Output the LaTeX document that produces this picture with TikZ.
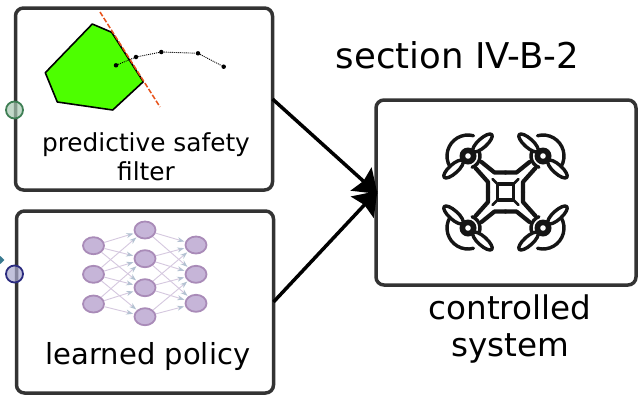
\documentclass[tikz,border=0pt]{standalone}
\usepackage{fontspec}
\setmainfont{DejaVu Sans}
\usetikzlibrary{arrows.meta,shapes.geometric}
\definecolor{boxc}{HTML}{333333}
\definecolor{nnfill}{HTML}{C6B5D8}
\definecolor{nnline}{HTML}{A98BB8}
\definecolor{nnedge}{HTML}{D5C8DF}
\definecolor{nntip}{HTML}{B4C2D2}
\definecolor{safe}{HTML}{4DFF00}
\definecolor{halfp}{HTML}{E8521A}
\definecolor{pgd}{HTML}{3F7F55}
\definecolor{pgf}{HTML}{A9C9B4}
\definecolor{pbd}{HTML}{2B2B7F}
\definecolor{pbf}{HTML}{A8A8CC}
\definecolor{pin}{HTML}{3A7A90}
\definecolor{ink}{HTML}{151515}
\tikzset{
  panel/.style={draw=boxc,line width=3.5pt,rounded corners=8pt,fill=white,inner sep=0,outer sep=0,anchor=north west},
  flow/.style={draw=black,line width=3.5pt,-{Stealth[length=22pt,width=31pt,inset=3pt]},shorten >=-2pt},
  nn/.style={ellipse,draw=nnline,fill=nnfill,line width=1.8pt,minimum width=21pt,minimum height=17pt,inner sep=0},
  nnarrow/.style={draw=nnedge,line width=.9pt,-{Stealth[length=7pt,width=5pt,color=nntip]},shorten >=1pt},
  port/.style={circle,line width=1.8pt,minimum size=17pt,inner sep=0},
  traj/.style={circle,fill=black,minimum size=4.5pt,inner sep=0},
  lbl/.style={align=center,inner sep=0,text=black},
  dr/.style={draw=ink,line width=4.2pt,line join=round,line cap=round}
}
\begin{document}
\begin{tikzpicture}[x=1pt,y=-1pt]
\useasboundingbox (0,0) rectangle (643,400);
\node[panel,minimum width=257pt,minimum height=182pt] (b1) at (15.5,8) {};
\node[panel,minimum width=257pt,minimum height=182pt] (b2) at (16.5,211) {};
\node[panel,minimum width=260pt,minimum height=185pt] (b3) at (376,100) {};
% flows
\draw[flow] (b1.east) -- (b3.west);
\draw[flow] (b2.east) -- (b3.west);
% ports
\node[port,draw=pgd,fill=pgf,fill opacity=.7] (p1) at (14.5,110) {};
\node[port,draw=pbd,fill=pbf,fill opacity=.7] (p2) at (14.5,274) {};
\node[diamond,fill=pin,minimum size=8pt,inner sep=0] (pinp) at (0.5,260) {};
% safety filter
\fill[fill=safe,draw=black,line width=1.6pt,line join=round]
  (92.3,24) -- (111.7,32.3) -- (143.3,81.7) -- (112.7,110) -- (57.3,102) -- (45.3,72.7) -- cycle;
\coordinate (ca) at (100,12);
\coordinate (cb) at (160,107);
\draw[draw=halfp,line width=1.5pt,dash pattern=on 5pt off 2pt] (ca) -- (cb);
\node[traj] (t1) at (116,65.3) {};
\node[traj] (t2) at (136,57) {};
\node[traj] (t3) at (161.3,52) {};
\node[traj] (t4) at (198,53.3) {};
\node[traj] (t5) at (223.7,66.7) {};
\draw[black,line width=.9pt,dash pattern=on 1pt off 1pt] (t1)--(t2)--(t3)--(t4)--(t5);
\node[lbl,font=\fontsize{24.8}{29}\selectfont] (tf) at (146,157) {predictive safety\\filter};
\node[lbl,font=\fontsize{29}{34}\selectfont] (tl) at (148,356) {learned policy};
\node[lbl,font=\fontsize{35.5}{40}\selectfont] (ts) at (457.5,55) {section IV-B-2};
\node[lbl,font=\fontsize{32.6}{37}\selectfont] (tc) at (510,329) {controlled\\system};
% neural net
\foreach \n/\x/\y in {a1/93.5/245.7,a2/93.5/274.3,a3/93.5/304,
  c1/145/230,c2/145/258.7,c3/145/287.7,c4/145/316.7,
  d1/196/245,d2/196/274.3,d3/196/303.3}
  \node[nn] (\n) at (\x,\y) {};
\foreach \s/\t in {a1/c1,a1/c2,a1/c3,a2/c1,a2/c2,a2/c3,a2/c4,a3/c2,a3/c3,a3/c4,
  c1/d1,c1/d2,c2/d1,c2/d2,c2/d3,c3/d1,c3/d2,c3/d3,c4/d2,c4/d3}
  \draw[nnarrow] (\s) -- (\t);
% drone (y up inside)
\begin{scope}[shift={(505.5,192)},x=1pt,y=1pt]
 \foreach \sx/\sy in {1/1,-1/1,1/-1,-1/-1}{
 \begin{scope}[xscale=\sx,yscale=\sy]
  \draw[dr] (-24,30) -- (-11,19.5) -- (0,19.5);
  \draw[dr] (-30,24) -- (-17.5,10) -- (-17.5,0);
  \draw[dr,line width=3.2pt,line cap=butt] (-8,8) -- (0,8) (-8,8) -- (-8,0);
  \draw[dr,line width=2.6pt] (-8,8) -- (-13,13);
  \begin{scope}[shift={(-37.5,36)}]
   \draw[dr,line width=3.4pt] (75:21) arc[start angle=75,end angle=210,radius=21];
   \draw[dr,line width=3.4pt] (-70:12) arc[start angle=-70,end angle=30,radius=12];
   \begin{scope}[rotate=42]
    \draw[dr,line width=3.4pt,fill=white] (19.5,0) ellipse[x radius=12.5,y radius=4.4];
    \draw[dr,line width=3.4pt,fill=white] (-19.5,0) ellipse[x radius=12.5,y radius=4.4];
   \end{scope}
   \fill[ink] (0,0) circle (8.5);
   \fill[white] (0,0) circle (2.8);
  \end{scope}
 \end{scope}}
\end{scope}
\end{tikzpicture}
\end{document}
